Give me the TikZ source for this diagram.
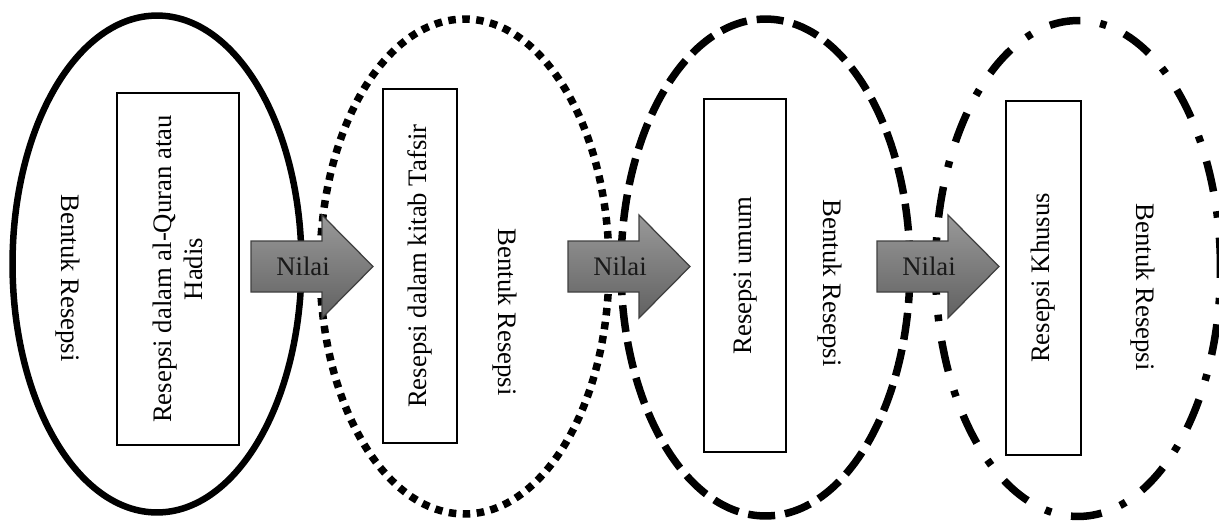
\documentclass[tikz,border=0pt]{standalone}
\usepackage{fontspec}
\setmainfont{Liberation Serif}
\usetikzlibrary{shapes}

\tikzset{
  ring/.style={draw, ellipse, inner sep=0pt, line width=0.13cm},
  textbox/.style={draw, rectangle, line width=0.045cm, fill=white, rotate=90, align=center, inner sep=0pt},
  formlabel/.style={rotate=-90},
  blockarrow/.style={draw=black!75, line width=0.025cm, top color=black!40, bottom color=black!62},
}

\begin{document}
\begin{tikzpicture}[x=0.02cm, y=-0.02cm, font=\fontsize{15.2}{17.6}\selectfont]
\useasboundingbox (0,0) rectangle (1219,525);

% Outer ellipses
\node[ring, minimum width=5.78cm, minimum height=9.94cm] (e1) at (157,264) {};
\node[ring, line width=0.15cm, dash pattern=on 0.15cm off 0.13cm, minimum width=5.78cm, minimum height=9.9cm] (e2) at (464.5,266.5) {};
\node[ring, line width=0.15cm, dash pattern=on 0.54cm off 0.2cm, minimum width=5.78cm, minimum height=9.94cm] (e3) at (765.5,267.5) {};
\node[ring, line width=0.15cm, dash pattern=on 0.62cm off 0.4cm on 0.13cm off 0.4cm, minimum width=5.7cm, minimum height=9.92cm] (e4) at (1078,268.5) {};

% Inner boxes
\node[textbox, minimum width=7.04cm, minimum height=2.44cm] (b1) at (178,269) {Resepsi dalam al-Quran atau\\Hadis};
\node[textbox, minimum width=7.08cm, minimum height=1.48cm] (b2) at (420,266) {Resepsi dalam kitab Tafsir};
\node[textbox, minimum width=7.06cm, minimum height=1.64cm] (b3) at (745,275.5) {Resepsi umum};
\node[textbox, minimum width=7.08cm, minimum height=1.5cm] (b4) at (1043.5,278) {Resepsi Khusus};

% Form labels
\node[formlabel] (l1) at (68,278) {Bentuk Resepsi};
\node[formlabel] (l2) at (505,312) {Bentuk Resepsi};
\node[formlabel] (l3) at (830,283) {Bentuk Resepsi};
\node[formlabel] (l4) at (1143,287) {Bentuk Resepsi};

% Value arrows
\foreach \x [count=\i] in {251,568,877} {
  \draw[blockarrow] (\x,241) -- ++(71,0) -- ++(0,-26) -- ++(51,51.5) -- ++(-51,51.5) -- ++(0,-26) -- ++(-71,0) -- cycle;
  \node[text=black!90] (n\i) at (\x+52,266.5) {Nilai};
}
\end{tikzpicture}
\end{document}
